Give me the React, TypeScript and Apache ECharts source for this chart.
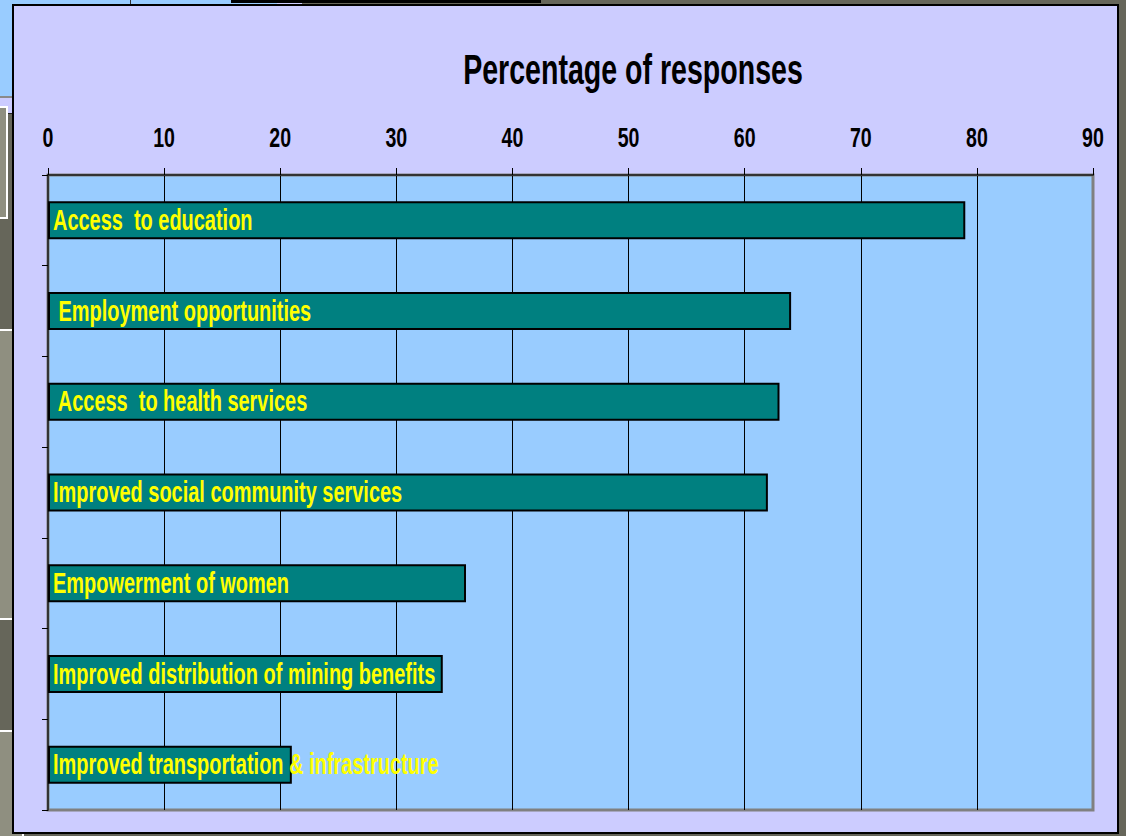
import React, { useEffect, useRef } from "react";
import * as echarts from "echarts";

const categories = [
  "Access  to education",
  " Employment opportunities",
  " Access  to health services",
  "Improved social community services",
  "Empowerment of women",
  "Improved distribution of mining benefits",
  "Improved transportation & infrastructure",
];
const values = [79, 64, 63, 62, 36, 34, 21];
const xTickValues = [0, 10, 20, 30, 40, 50, 60, 70, 80, 90];
const xTicks = { min: 0, max: 90, interval: 10 };
const titleText = "Percentage of responses";

const FONT = "'Liberation Sans', Arial, sans-serif";
const SQUEEZE = 0.665;

export default function App() {
  const ref = useRef<HTMLDivElement>(null);
  useEffect(() => {
    if (!ref.current) return;
    const chart = echarts.init(ref.current, undefined, { renderer: "svg" });
    const option: any = {
      animation: false,
      backgroundColor: "#66665A",
      graphic: [
        { type: "rect", z: -10, shape: { x: 0, y: 0, width: 277, height: 6 }, style: { fill: "#99CCFF" } },
        { type: "rect", z: -10, shape: { x: 277, y: 0, width: 25, height: 6 }, style: { fill: "#CCCCFF" } },
        { type: "rect", z: -10, shape: { x: 0, y: 0, width: 14, height: 97 }, style: { fill: "#99CCFF" } },
        { type: "rect", z: -10, shape: { x: 0, y: 96, width: 14, height: 2 }, style: { fill: "#8A8A8A" } },
        { type: "rect", z: -10, shape: { x: 0, y: 98, width: 14, height: 15 }, style: { fill: "#CCCCFF" } },
        { type: "rect", z: -10, shape: { x: 0, y: 113, width: 14, height: 1 }, style: { fill: "#222" } },
        { type: "rect", z: -10, shape: { x: 231, y: 0, width: 310, height: 3 }, style: { fill: "#000" } },
        { type: "rect", z: -10, shape: { x: 130, y: 0, width: 1, height: 6 }, style: { fill: "#333" } },
        { type: "rect", z: -10, shape: { x: -2, y: 107, width: 9, height: 111 }, style: { fill: "#8F8F80", stroke: "#FFFFFF", lineWidth: 2 } },
        { type: "rect", z: -10, shape: { x: -2, y: 330, width: 25, height: 289 }, style: { fill: "#8F8F80", stroke: "#FFFFFF", lineWidth: 2 } },
        { type: "rect", z: -10, shape: { x: -2, y: 731, width: 25, height: 110 }, style: { fill: "#8F8F80", stroke: "#FFFFFF", lineWidth: 2 } },
        { type: "rect", z: -5, shape: { x: 13, y: 5, width: 1105, height: 828 }, style: { fill: "#CCCCFF", stroke: "#000", lineWidth: 2 } },
        {
          type: "text",
          z: 10,
          x: 633,
          y: 69,
          scaleX: 0.68,
          style: {
            text: titleText,
            fill: "#000",
            font: `bold 42px ${FONT}`,
            align: "center",
            verticalAlign: "middle",
          },
        },
      ],
      grid: {
        left: 48,
        top: 175,
        width: 1045,
        height: 635,
        show: true,
        backgroundColor: "#99CCFF",
        borderColor: "#808080",
        borderWidth: 3,
        containLabel: false,
      },
      xAxis: {
        type: "value",
        position: "top",
        min: xTicks.min,
        max: xTicks.max,
        interval: xTicks.interval,
        axisLine: { show: true, lineStyle: { color: "#333", width: 2 } },
        axisTick: { show: true, inside: false, length: 7, lineStyle: { color: "#000", width: 1 } },
        axisLabel: { show: false },
        splitLine: { show: true, showMaxLine: false, lineStyle: { color: "#000", width: 1 } },
      },
      yAxis: {
        type: "category",
        data: categories,
        inverse: true,
        axisLine: { show: true, lineStyle: { color: "#333", width: 2 } },
        axisTick: { show: true, length: 6, lineStyle: { color: "#000", width: 1 } },
        axisLabel: { show: false },
        splitLine: { show: false },
      },
      series: [
        {
          type: "bar",
          data: values,
          barWidth: 38,
          itemStyle: { color: "#008080", borderColor: "#000", borderWidth: 2 },
          label: { show: false },
        },
        {
          type: "custom",
          z: 5,
          clip: false,
          data: categories.map((c, i) => [0, i]),
          renderItem: (params: any, api: any) => {
            const idx = api.value(1);
            const p = api.coord([0, idx]);
            return {
              type: "text",
              x: p[0] + 5,
              y: p[1] - 1,
              scaleX: SQUEEZE,
              style: {
                text: categories[idx],
                fill: "#FFFF00",
                font: `bold 30px ${FONT}`,
                align: "left",
                verticalAlign: "middle",
              },
            };
          },
        },
        {
          type: "custom",
          z: 5,
          clip: false,
          data: xTickValues.map((v) => [v, 0]),
          renderItem: (params: any, api: any) => {
            const v = api.value(0);
            const p = api.coord([v, 0]);
            return {
              type: "text",
              x: p[0],
              y: params.coordSys.y - 38,
              scaleX: 0.7,
              style: {
                text: String(v),
                fill: "#000",
                font: `bold 28px ${FONT}`,
                align: "center",
                verticalAlign: "middle",
              },
            };
          },
        },
      ],
    };
    chart.setOption(option);
    return () => chart.dispose();
  }, []);
  return (
    <div
      ref={ref}
      style={{ position: "absolute", left: 0, top: 0, width: 1126, height: 836 }}
    />
  );
}
